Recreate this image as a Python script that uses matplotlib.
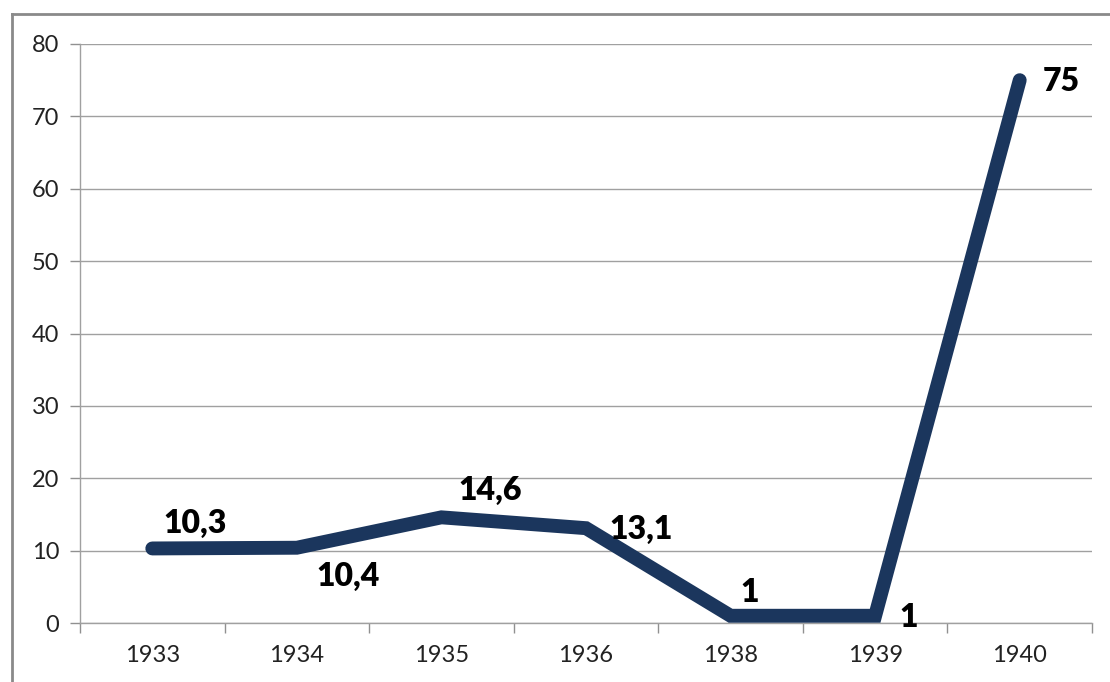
import matplotlib
matplotlib.use("Agg")
import matplotlib.pyplot as plt
from matplotlib.lines import Line2D

years = ["1933", "1934", "1935", "1936", "1938", "1939", "1940"]
values = [10.3, 10.4, 14.6, 13.1, 1, 1, 75]
labels = ["10,3", "10,4", "14,6", "13,1", "1", "1", "75"]
# label offsets in points (dx, dy) relative to each point
offsets = [(31, 18), (37, -21), (35, 19), (40, -1), (14, 17), (24, -1), (30, -1)]

plt.rcParams["font.family"] = ["Lato", "DejaVu Sans"]

fig = plt.figure(figsize=(11.1, 6.82), dpi=100)
ax = fig.add_axes([80 / 1110, 1 - 623 / 682, (1092 - 80) / 1110, (623 - 44) / 682])

x = list(range(len(years)))
ax.plot(x, values, color="#1b365d", lw=10, solid_capstyle="round", solid_joinstyle="miter", zorder=3)

for xi, v, lab, (dx, dy) in zip(x, values, labels, offsets):
    ax.annotate(lab, (xi, v), xytext=(dx, dy), textcoords="offset points",
                ha="center", va="center", fontsize=23, fontweight="heavy", color="black", zorder=4)

ax.set_xlim(-0.5, len(years) - 0.5)
ax.set_ylim(0, 80)
ax.set_yticks(range(0, 81, 10))
ax.set_xticks(x)
ax.set_xticklabels(years)
ax.set_xticks([i - 0.5 for i in range(len(years) + 1)], minor=True)
ax.tick_params(axis="x", which="major", length=0, pad=16, labelsize=17, colors="#222222")
ax.tick_params(axis="x", which="minor", length=7, width=1, color="#909090")
ax.tick_params(axis="y", length=7, width=1, color="#909090", labelsize=17, labelcolor="#222222", pad=8)

ax.grid(axis="y", color="#a0a0a0", lw=1)
ax.set_axisbelow(True)
for s in ["top", "right"]:
    ax.spines[s].set_visible(False)
for s in ["left", "bottom"]:
    ax.spines[s].set_color("#a0a0a0")
    ax.spines[s].set_linewidth(1)

# outer chart border (extends past right/bottom edge)
fig.add_artist(Line2D([12 / 1110, 1], [1 - 14 / 682, 1 - 14 / 682], color="#8a8a8a", lw=2, transform=fig.transFigure))
fig.add_artist(Line2D([12 / 1110, 12 / 1110], [0, 1 - 14 / 682], color="#8a8a8a", lw=2, transform=fig.transFigure))

fig.savefig("out.png", dpi=100)
